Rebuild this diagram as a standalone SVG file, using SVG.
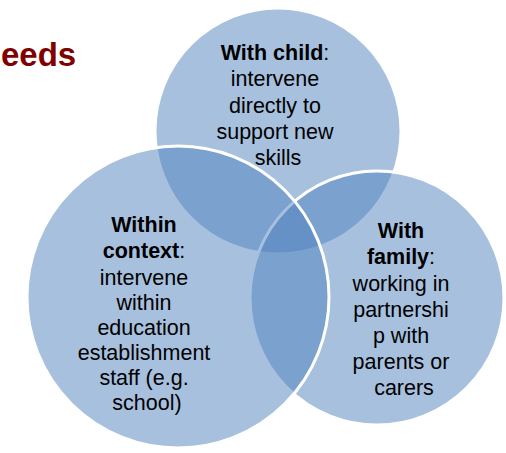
<svg xmlns="http://www.w3.org/2000/svg" width="506" height="453" viewBox="0 0 506 453">
  <style>
    .ring { fill: #4F81BD; fill-opacity: 0.5; stroke: #FFFFFF; stroke-width: 3; }
    .label { font-family: "Liberation Sans", Arial, sans-serif; font-size: 21.5px; fill: #000000; text-anchor: middle; }
    .label .b { font-weight: bold; }
    .heading { font-family: "Liberation Sans", Arial, sans-serif; font-size: 33px; font-weight: bold; fill: #800000; }
  </style>
  <rect width="506" height="453" fill="#FFFFFF"/>
  <text class="heading" x="1" y="66">eeds</text>

  <g id="with-child">
    <circle class="ring" cx="278" cy="131" r="123"/>
  </g>
  <g id="with-family">
    <circle class="ring" cx="377" cy="298" r="127"/>
  </g>
  <g id="within-context">
    <circle class="ring" cx="178" cy="297" r="151"/>
  </g>

  <g id="labels">
    <text class="label" x="278">
      <tspan x="278" y="60"><tspan class="b">With child</tspan>:</tspan>
      <tspan x="278" y="86">intervene</tspan>
      <tspan x="278" y="112.5">directly to</tspan>
      <tspan x="278" y="138.5">support new</tspan>
      <tspan x="278" y="165">skills</tspan>
    </text>
    <text class="label" x="147">
      <tspan x="147" y="232" class="b">Within</tspan>
      <tspan x="147" y="258"><tspan class="b">context</tspan>:</tspan>
      <tspan x="147" y="284.5">intervene</tspan>
      <tspan x="147" y="310">within</tspan>
      <tspan x="147" y="335">education</tspan>
      <tspan x="147" y="360">establishment</tspan>
      <tspan x="147" y="385">staff (e.g.</tspan>
      <tspan x="147" y="410">school)</tspan>
    </text>
    <text class="label" x="404">
      <tspan x="404" y="238" class="b">With</tspan>
      <tspan x="404" y="264"><tspan class="b">family</tspan>:</tspan>
      <tspan x="404" y="291">working in</tspan>
      <tspan x="404" y="317">partnershi</tspan>
      <tspan x="404" y="343">p with</tspan>
      <tspan x="404" y="368.5">parents or</tspan>
      <tspan x="404" y="394.5">carers</tspan>
    </text>
  </g>
</svg>
